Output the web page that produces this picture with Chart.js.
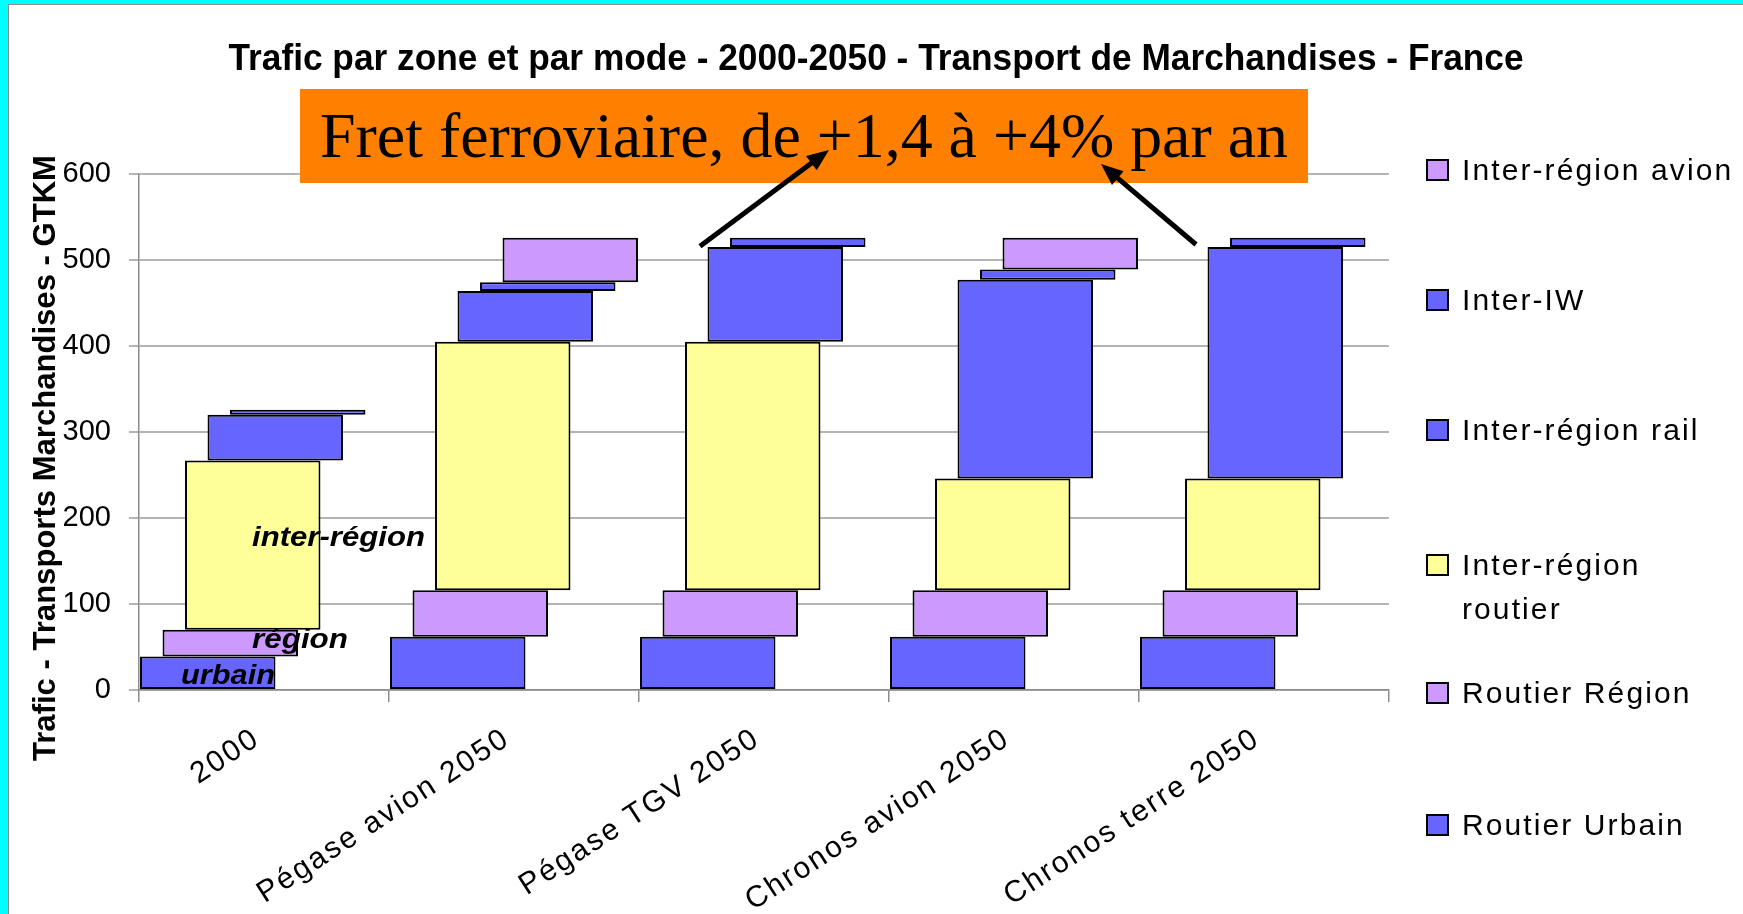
<!DOCTYPE html>
<html lang="fr">
<head>
<meta charset="utf-8">
<title>Trafic par zone et par mode - Transport de Marchandises</title>
<script src="https://cdn.jsdelivr.net/npm/chart.js@4.4.1/dist/chart.umd.min.js"></script>
<style>
  body { margin: 0; }
  #cadre { position: relative; width: 1743px; height: 914px; background: #00ffff; overflow: hidden; }
  #fond { position: absolute; left: 8px; top: 4px; right: 0; bottom: 0; background: #fff;
          border-left: 1px solid #8c8c8c; border-top: 1px solid #8c8c8c; }
  #graphe { position: absolute; left: 0; top: 0; }
  #legende { position: absolute; left: 1426px; top: 0; font: 30px "Liberation Sans", Arial, sans-serif;
             letter-spacing: 2.1px; color: #000; }
  .carre { position: absolute; left: 0; width: 19px; height: 18px; border: 2px solid #000; }
  .texte { position: absolute; left: 36px; line-height: 44px; white-space: pre; }
</style>
</head>
<body>
<div id="cadre">
  <div id="fond"></div>
  <canvas id="graphe" width="1743" height="914"></canvas>
  <div id="legende"></div>
</div>
<script>
// donnees (GTKM)
const categories = ['2000', 'Pégase avion 2050', 'Pégase TGV 2050', 'Chronos avion 2050', 'Chronos terre 2050'];
const routierUrbain = [39, 62, 62, 62, 62];
const routierRegion = [31, 54, 54, 54, 54];
const interRegionRoutier = [197, 289, 289, 130, 130];
const interRegionRail = [53, 59, 110, 231, 269];
const interIW = [6, 10, 11, 12, 11];
const interRegionAvion = [0, 52, 0, 37, 0];
const yTicks = [0, 100, 200, 300, 400, 500, 600];

const series = [
  { nom: 'Routier Urbain', valeurs: routierUrbain, couleur: '#6666ff' },
  { nom: 'Routier Région', valeurs: routierRegion, couleur: '#cc99ff' },
  { nom: 'Inter-région\nroutier', valeurs: interRegionRoutier, couleur: '#ffff99' },
  { nom: 'Inter-région rail', valeurs: interRegionRail, couleur: '#6666ff' },
  { nom: 'Inter-IW', valeurs: interIW, couleur: '#6666ff' },
  { nom: 'Inter-région avion', valeurs: interRegionAvion, couleur: '#cc99ff' }
];

// barres flottantes : chaque serie part du sommet de la precedente
const cumul = categories.map(() => 0);
const datasets = series.map(s => {
  const data = s.valeurs.map((v, i) => {
    const debut = cumul[i];
    cumul[i] += v;
    return v > 0 ? [debut, cumul[i]] : null;
  });
  return {
    label: s.nom,
    data: data,
    backgroundColor: s.couleur,
    borderColor: '#000',
    borderWidth: 2,
    borderSkipped: false,
    categoryPercentage: 0.54,
    barPercentage: 6.02
  };
});

// legende (ordre inverse), centre vertical de la premiere ligne
const legendeY = [825, 693, 565, 430, 300, 170];
const legende = document.getElementById('legende');
series.forEach((s, i) => {
  const cy = legendeY[i];
  const carre = document.createElement('div');
  carre.className = 'carre';
  carre.style.top = (cy - 11) + 'px';
  carre.style.background = s.couleur;
  const texte = document.createElement('div');
  texte.className = 'texte';
  texte.style.top = (cy - 22) + 'px';
  texte.textContent = s.nom;
  legende.appendChild(carre);
  legende.appendChild(texte);
});

function texteAjuste(ctx, txt, font, x, y, largeur, align, angle) {
  ctx.save();
  ctx.font = font;
  const w = ctx.measureText(txt).width;
  ctx.translate(x, y);
  if (angle) ctx.rotate(angle);
  ctx.scale(largeur / w, 1);
  ctx.textAlign = align;
  ctx.textBaseline = 'alphabetic';
  ctx.fillStyle = '#000';
  ctx.fillText(txt, 0, 0);
  ctx.restore();
}

function fleche(ctx, x0, y0, x1, y1) {
  const a = Math.atan2(y1 - y0, x1 - x0);
  const L = 22, W = 9;
  const c = Math.cos(a), s = Math.sin(a);
  ctx.save();
  ctx.strokeStyle = '#000';
  ctx.fillStyle = '#000';
  ctx.lineWidth = 5;
  ctx.beginPath();
  ctx.moveTo(x0, y0);
  ctx.lineTo(x1 - L * 0.8 * c, y1 - L * 0.8 * s);
  ctx.stroke();
  ctx.beginPath();
  ctx.moveTo(x1, y1);
  ctx.lineTo(x1 - L * c + W * s, y1 - L * s - W * c);
  ctx.lineTo(x1 - L * c - W * s, y1 - L * s + W * c);
  ctx.closePath();
  ctx.fill();
  ctx.restore();
}

const annotations = {
  id: 'annotations',
  afterDatasetsDraw(chart) {
    // espacement des lettres pour les etiquettes de l'axe x (dessinees apres les barres)
    chart.ctx.letterSpacing = '2.2px';
  },
  afterDraw(chart) {
    const ctx = chart.ctx;
    ctx.letterSpacing = '0px';
    const xs = chart.scales.x, ys = chart.scales.y;

    texteAjuste(ctx, 'Trafic par zone et par mode - 2000-2050 - Transport de Marchandises - France',
      'bold 37px "Liberation Sans"', 876, 70, 1295, 'center');
    texteAjuste(ctx, 'Trafic - Transports Marchandises - GTKM',
      'bold 31px "Liberation Sans"', 55, 458, 606, 'center', -Math.PI / 2);

    // etiquettes dans le graphique
    const x0 = xs.getPixelForValue(0);
    texteAjuste(ctx, 'inter-région', 'bold italic 28px "Liberation Sans"', x0 - 12, ys.getPixelForValue(167), 173, 'left');
    texteAjuste(ctx, 'région', 'bold italic 28px "Liberation Sans"', x0 - 12, ys.getPixelForValue(49), 96, 'left');
    texteAjuste(ctx, 'urbain', 'bold italic 28px "Liberation Sans"', x0 - 83, ys.getPixelForValue(7), 94, 'left');

    // encadre orange
    ctx.save();
    ctx.fillStyle = '#ff8000';
    ctx.fillRect(300, 89, 1008, 94);
    ctx.restore();
    texteAjuste(ctx, 'Fret ferroviaire, de +1,4 à +4% par an', '64px "Liberation Serif"', 320, 157, 968, 'left');

    fleche(ctx, xs.getPixelForValue(2) - 64, ys.getPixelForValue(516), 829, 150);
    fleche(ctx, xs.getPixelForValue(4) - 68, ys.getPixelForValue(518), 1101, 164);
  }
};

new Chart(document.getElementById('graphe'), {
  type: 'bar',
  data: { labels: categories, datasets: datasets },
  options: {
    responsive: false,
    animation: false,
    layout: { padding: { left: 8, right: 354, top: 174, bottom: 0 } },
    plugins: {
      legend: { display: false },
      title: { display: false },
      tooltip: { enabled: false }
    },
    scales: {
      x: {
        grid: { offset: true, drawOnChartArea: false, tickLength: 12, color: '#8c8c8c', lineWidth: 1.5 },
        border: { color: '#8c8c8c', width: 1.5 },
        ticks: {
          z: 1, minRotation: 33, maxRotation: 33, padding: 19, labelOffset: -7, color: '#000',
          font: { family: '"Liberation Sans"', size: 30 }
        },
        afterFit(s) { s.height = 224; }
      },
      y: {
        min: yTicks[0],
        max: yTicks[yTicks.length - 1],
        afterBuildTicks(s) { s.ticks = yTicks.map(v => ({ value: v })); },
        grid: { color: '#b4b4b4', lineWidth: 2, tickLength: 10 },
        border: { color: '#8c8c8c', width: 1.5 },
        ticks: { padding: 18, color: '#000', font: { family: '"Liberation Sans"', size: 29 } },
        afterFit(s) { s.width = 131; }
      }
    }
  },
  plugins: [annotations]
});
</script>
</body>
</html>
